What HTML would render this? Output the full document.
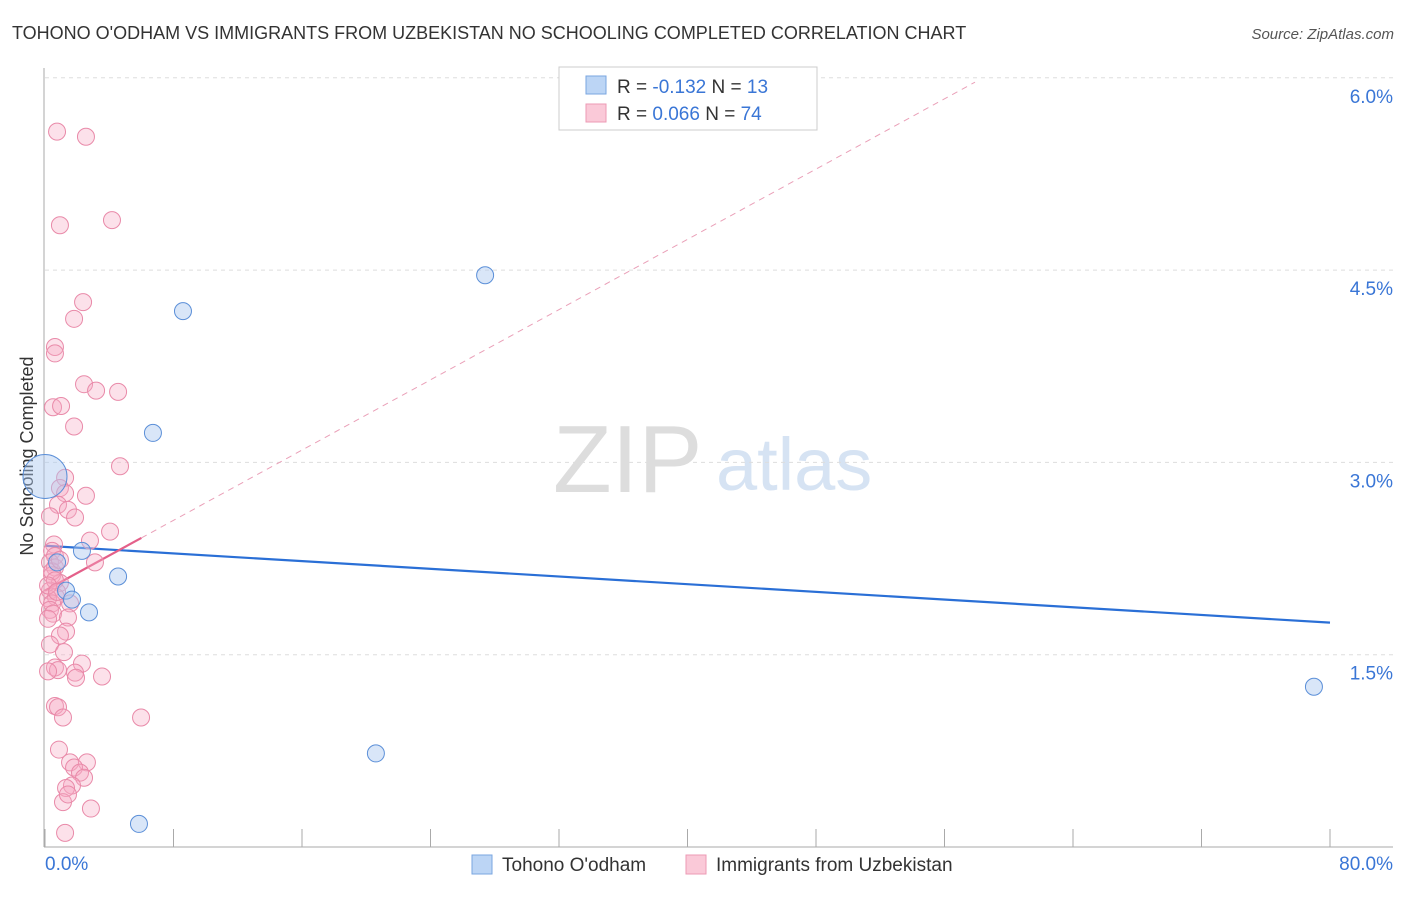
<!DOCTYPE html>
<html><head><meta charset="utf-8"><style>
body{margin:0;background:#fff;font-family:"Liberation Sans",sans-serif;}
svg text{font-family:"Liberation Sans",sans-serif;}
</style></head><body>
<svg width="1406" height="892" id="chart">
<text x="12" y="39" font-size="18" fill="#333">TOHONO O'ODHAM VS IMMIGRANTS FROM UZBEKISTAN NO SCHOOLING COMPLETED CORRELATION CHART</text>
<text x="1394" y="39" font-size="15" fill="#555" font-style="italic" text-anchor="end">Source: ZipAtlas.com</text>
<text transform="translate(33,456) rotate(-90)" font-size="18" fill="#333" text-anchor="middle">No Schooling Completed</text>
<g>
<text x="553" y="492" font-size="96" fill="#ddd" font-family="Liberation Serif">ZIP</text>
<text x="716" y="490" font-size="74" fill="#d6e3f3">atlas</text>
</g>
<g id="grid"></g><g id="axes"></g><g id="trend"></g><g id="pts"></g>
<g>
<rect x="559" y="67" width="258" height="63" fill="#fff" stroke="#ccc"/>
<rect x="586" y="76" width="20" height="18" fill="#bcd5f5" stroke="#7aa6e0"/>
<rect x="586" y="104" width="20" height="18" fill="#fac9d8" stroke="#ec9ab4"/>
<text x="617" y="93" font-size="19" fill="#333">R = <tspan fill="#3a76d6">-0.132</tspan>   N = <tspan fill="#3a76d6">13</tspan></text>
<text x="617" y="120" font-size="19" fill="#333">R = <tspan fill="#3a76d6"> 0.066</tspan>   N = <tspan fill="#3a76d6">74</tspan></text>
</g>
<g>
<rect x="472" y="855" width="20" height="19" fill="#bcd5f5" stroke="#7aa6e0"/>
<text x="502" y="871" font-size="19" fill="#333">Tohono O'odham</text>
<rect x="686" y="855" width="20" height="19" fill="#fac9d8" stroke="#ec9ab4"/>
<text x="716" y="871" font-size="19" fill="#333">Immigrants from Uzbekistan</text>
</g>
</svg>
<script>
const yTicks=[1.5,3.0,4.5,6.0];
const yTickLabels=["1.5%","3.0%","4.5%","6.0%"];
const xTicks=[0,8,16,24,32,40,48,56,64,72,80];
const xEndLabels=["0.0%","80.0%"];
const blueX=[0,0.75,1.31,1.68,2.30,2.74,4.55,6.72,8.59,27.4,20.6,5.85,79.0];
const blueY=[2.89,2.22,2.00,1.93,2.31,1.83,2.11,3.23,4.18,4.46,0.73,0.18,1.25];
const pinkX=[.75,2.55,.93,4.17,2.37,1.81,.62,.62,2.43,3.18,4.55,.50,1.00,1.81,4.67,1.25,.93,2.55,1.25,.81,1.43,.31,1.87,4.05,2.80,.56,.44,.62,3.11,.31,.62,.44,.93,.31,.68,.19,.44,1.56,.31,.50,1.43,.19,1.31,.93,.31,1.18,2.30,.62,.81,1.87,3.55,.19,1.93,.62,.81,1.12,5.98,.87,1.56,2.61,1.81,2.18,2.43,1.68,1.31,1.12,1.43,2.86,1.25,.44,.62,.19,.75,.93];
const pinkY=[5.58,5.54,4.85,4.89,4.25,4.12,3.90,3.85,3.61,3.56,3.55,3.43,3.44,3.28,2.97,2.88,2.80,2.74,2.76,2.67,2.63,2.58,2.57,2.46,2.39,2.36,2.31,2.27,2.22,2.22,2.18,2.12,2.06,2.00,1.95,1.94,1.90,1.90,1.85,1.82,1.79,1.78,1.68,1.65,1.58,1.52,1.43,1.40,1.38,1.36,1.33,1.37,1.32,1.10,1.09,1.01,1.01,.76,.66,.66,.62,.58,.54,.48,.46,.35,.41,.30,.11,2.15,2.08,2.04,1.99,2.24];
const blueTrend=[2.35,1.75];
const pinkTrend=[2.00,0.0685];
const pinkSolidEnd=6.0, pinkDashEnd=57.9;
const X=v=>45+v*1285/80, Y=v=>847-v*128.2;
const NS="http://www.w3.org/2000/svg";
function mk(tag,parent,attrs){const e=document.createElementNS(NS,tag);for(const k in attrs)e.setAttribute(k,attrs[k]);document.getElementById(parent).appendChild(e);return e;}
yTicks.forEach((t,i)=>{
 const l=mk('line','grid',{x1:45,x2:1393,y1:Y(t),y2:Y(t),stroke:'#ddd','stroke-dasharray':'4 4'});
 
 
 const tx=mk('text','grid',{x:1393,y:Y(t)+25,'font-size':19,fill:'#3a76d6','text-anchor':'end'});
 tx.textContent=yTickLabels[i];
 
 
});
let a=mk('line','axes',{x1:44,x2:44,y1:68,y2:847,stroke:'#aaa'});


a=mk('line','axes',{x1:44,x2:1393,y1:847,y2:847,stroke:'#aaa'});


xTicks.forEach(t=>{const l=mk('line','axes',{x1:X(t),x2:X(t),y1:829,y2:847,stroke:'#aaa'});
 
 });
[0,80].forEach((t,i)=>{const tx=mk('text','axes',{x:i?1393:45,y:870,'font-size':19,fill:'#3a76d6','text-anchor':i?'end':'start'});
 tx.textContent=xEndLabels[i];
 
 });
let t=mk('line','trend',{x1:X(0),y1:Y(blueTrend[0]),x2:X(80),y2:Y(blueTrend[1]),stroke:'#2a6fd6','stroke-width':2.2});


t=mk('line','trend',{x1:X(pinkSolidEnd),y1:Y(pinkTrend[0]+pinkTrend[1]*pinkSolidEnd),x2:X(pinkDashEnd),y2:Y(pinkTrend[0]+pinkTrend[1]*pinkDashEnd),stroke:'#eaa0b8','stroke-width':1,'stroke-dasharray':'6 5'});


t=mk('line','trend',{x1:X(0),y1:Y(pinkTrend[0]),x2:X(pinkSolidEnd),y2:Y(pinkTrend[0]+pinkTrend[1]*pinkSolidEnd),stroke:'#e4608a','stroke-width':2.2});


pinkX.forEach((x,i)=>{const c=mk('circle','pts',{cx:X(x),cy:Y(pinkY[i]),r:8.5,fill:'rgba(247,170,195,0.35)',stroke:'#e98aa9','stroke-width':1});
 
 });
blueX.forEach((x,i)=>{const c=mk('circle','pts',{cx:X(x),cy:Y(blueY[i]),r:i===0?22:8.5,fill:'rgba(170,200,240,0.45)',stroke:'#5b8fd8','stroke-width':1});
 
 });
</script>
</body></html>
